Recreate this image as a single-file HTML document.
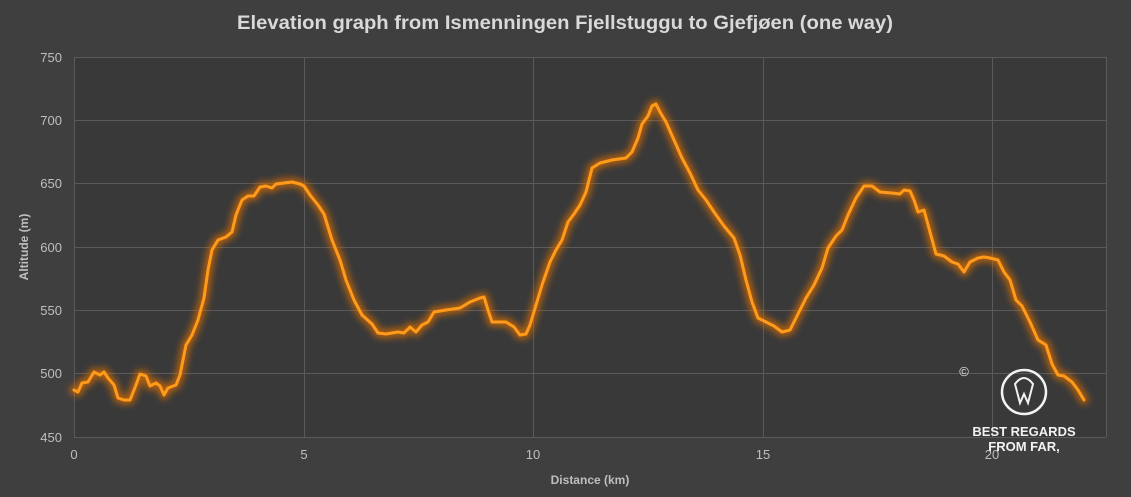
<!DOCTYPE html>
<html><head><meta charset="utf-8"><style>
html,body{margin:0;padding:0;background:#3f3f3f;}
svg{display:block;font-family:"Liberation Sans",sans-serif;}
</style></head><body>
<svg width="1131" height="497" viewBox="0 0 1131 497" xmlns="http://www.w3.org/2000/svg">
<defs>
<filter id="g" x="-10%" y="-20%" width="120%" height="140%"><feGaussianBlur stdDeviation="3.5"/></filter>
</defs>
<rect width="1131" height="497" fill="#3f3f3f"/>
<rect x="74" y="57" width="1032" height="380" fill="#393939"/>
<g stroke="#5a5a5a" stroke-width="1">
<line x1="74" y1="57.5" x2="1106" y2="57.5"/>
<line x1="74" y1="120.5" x2="1106" y2="120.5"/>
<line x1="74" y1="183.5" x2="1106" y2="183.5"/>
<line x1="74" y1="247.5" x2="1106" y2="247.5"/>
<line x1="74" y1="310.5" x2="1106" y2="310.5"/>
<line x1="74" y1="373.5" x2="1106" y2="373.5"/>
<line x1="74" y1="437.5" x2="1106" y2="437.5"/>
<line x1="74.5" y1="57" x2="74.5" y2="437"/>
<line x1="304.5" y1="57" x2="304.5" y2="437"/>
<line x1="533.5" y1="57" x2="533.5" y2="437"/>
<line x1="763.5" y1="57" x2="763.5" y2="437"/>
<line x1="992.5" y1="57" x2="992.5" y2="437"/>
<line x1="1106.5" y1="57" x2="1106.5" y2="437"/>
</g>
<text x="565" y="29" text-anchor="middle" font-size="19" font-weight="bold" fill="#d9d9d9" textLength="656" lengthAdjust="spacingAndGlyphs">Elevation graph from Ismenningen Fjellstuggu to Gjefjøen (one way)</text>
<g font-size="13" fill="#bfbfbf" text-anchor="end">
<text x="62" y="62">750</text><text x="62" y="125">700</text><text x="62" y="188">650</text>
<text x="62" y="252">600</text><text x="62" y="315">550</text><text x="62" y="378">500</text><text x="62" y="442">450</text>
</g>
<g font-size="13" fill="#bfbfbf" text-anchor="middle">
<text x="74" y="459">0</text><text x="304" y="459">5</text><text x="533" y="459">10</text>
<text x="763" y="459">15</text><text x="992" y="459">20</text>
</g>
<text x="590" y="484" text-anchor="middle" font-size="12" font-weight="bold" fill="#bfbfbf">Distance (km)</text>
<text transform="translate(28,247) rotate(-90)" text-anchor="middle" font-size="12" font-weight="bold" fill="#bfbfbf">Altitude (m)</text>
<g fill="none" stroke-linejoin="round" stroke-linecap="round">
<polyline stroke="#d86e08" stroke-width="9" stroke-opacity="0.75" filter="url(#g)" points="74,390 78,392 82,383 88,382 94,372 100,375 104,372 108,378 114,385 118,398 124,400 130,400 136,385 140,374 146,376 150,386 156,383 160,386 164,395 168,388 176,385 180,375 186,345 192,335 198,320 204,298 208,270 212,250 218,240 226,237 232,232 236,215 242,200 248,196 254,196 260,187 266,186 272,188 276,184 284,183 292,182 300,184 304,186 310,195 318,205 324,214 332,240 340,260 346,280 354,300 362,315 372,324 378,333 386,334 398,332 404,333 410,327 416,332 422,325 428,322 434,312 446,310 460,308 470,302 480,298 484,297 488,310 492,322 500,322 506,322 514,327 520,335 526,334 530,325 536,305 542,285 550,262 556,250 562,240 568,222 574,214 580,205 586,192 592,168 600,163 612,160 626,158 632,152 638,138 642,124 648,116 652,106 656,104 660,112 666,122 674,140 682,158 690,173 698,190 706,200 714,212 724,226 734,238 740,255 746,280 752,302 758,318 766,322 774,326 782,332 790,330 798,314 806,298 814,285 822,268 828,248 836,236 842,230 848,215 856,198 864,186 872,186 880,192 892,193 900,194 904,190 910,191 914,200 918,212 924,210 930,232 936,254 944,256 952,262 958,264 964,272 970,262 978,258 984,257 990,258 998,260 1004,272 1010,280 1016,300 1022,306 1030,322 1038,340 1046,345 1052,364 1058,375 1064,376 1072,382 1078,390 1084,400"/>
<polyline stroke="#ff9a1a" stroke-width="3" points="74,390 78,392 82,383 88,382 94,372 100,375 104,372 108,378 114,385 118,398 124,400 130,400 136,385 140,374 146,376 150,386 156,383 160,386 164,395 168,388 176,385 180,375 186,345 192,335 198,320 204,298 208,270 212,250 218,240 226,237 232,232 236,215 242,200 248,196 254,196 260,187 266,186 272,188 276,184 284,183 292,182 300,184 304,186 310,195 318,205 324,214 332,240 340,260 346,280 354,300 362,315 372,324 378,333 386,334 398,332 404,333 410,327 416,332 422,325 428,322 434,312 446,310 460,308 470,302 480,298 484,297 488,310 492,322 500,322 506,322 514,327 520,335 526,334 530,325 536,305 542,285 550,262 556,250 562,240 568,222 574,214 580,205 586,192 592,168 600,163 612,160 626,158 632,152 638,138 642,124 648,116 652,106 656,104 660,112 666,122 674,140 682,158 690,173 698,190 706,200 714,212 724,226 734,238 740,255 746,280 752,302 758,318 766,322 774,326 782,332 790,330 798,314 806,298 814,285 822,268 828,248 836,236 842,230 848,215 856,198 864,186 872,186 880,192 892,193 900,194 904,190 910,191 914,200 918,212 924,210 930,232 936,254 944,256 952,262 958,264 964,272 970,262 978,258 984,257 990,258 998,260 1004,272 1010,280 1016,300 1022,306 1030,322 1038,340 1046,345 1052,364 1058,375 1064,376 1072,382 1078,390 1084,400"/>
</g>
<text x="964" y="376" text-anchor="middle" font-size="13" fill="#e8e8e8">©</text>
<circle cx="1024" cy="392" r="22" fill="none" stroke="#f2f2f2" stroke-width="2.5"/>
<path d="M1015,384 Q1024,372 1033,384 L1028,403 L1024,394 L1020,403 Z" fill="none" stroke="#f2f2f2" stroke-width="2"/>
<text x="1024" y="436" text-anchor="middle" font-size="13" font-weight="bold" fill="#f2f2f2">BEST REGARDS</text>
<text x="1024" y="451" text-anchor="middle" font-size="13" font-weight="bold" fill="#f2f2f2">FROM FAR,</text>
</svg>
</body></html>
